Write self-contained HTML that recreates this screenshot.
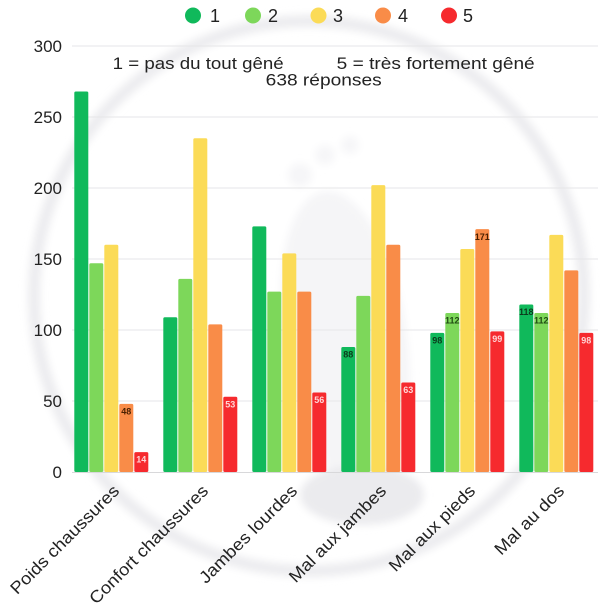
<!DOCTYPE html>
<html><head><meta charset="utf-8"><style>
html,body{margin:0;padding:0;background:#fff;}
svg{display:block;}
text{font-family:"Liberation Sans",Arial,sans-serif;fill:#222;}
.yl{font-size:17px;text-anchor:end;}
.xl{font-size:17px;text-anchor:end;}
.bl{font-size:9px;text-anchor:middle;font-weight:bold;}
</style></head><body>
<svg width="600" height="615" viewBox="0 0 600 615" xmlns="http://www.w3.org/2000/svg">
<defs>
<filter id="bl" x="-20%" y="-20%" width="140%" height="140%"><feGaussianBlur stdDeviation="4"/></filter>
</defs>
<rect width="600" height="615" fill="#fff"/>
<!-- watermark -->
<g filter="url(#bl)">
<circle cx="309" cy="296" r="275" fill="none" stroke="#ececef" stroke-width="12"/>
<ellipse cx="345" cy="340" rx="62" ry="150" fill="#f5f5f7" transform="rotate(-8 345 340)"/>
<ellipse cx="362" cy="495" rx="62" ry="30" fill="#ebebee"/>
<circle cx="300" cy="175" r="12" fill="#f6f6f8"/>
<circle cx="325" cy="155" r="10" fill="#f6f6f8"/>
<circle cx="350" cy="145" r="9" fill="#f6f6f8"/>
</g>
<!-- legend -->
<circle cx="193" cy="15.5" r="8" fill="#10b95b"/><text x="210" y="22" style="font-size:18px">1</text>
<circle cx="253" cy="15.5" r="8" fill="#7dd75a"/><text x="268" y="22" style="font-size:18px">2</text>
<circle cx="318.5" cy="15.5" r="8" fill="#fbdb57"/><text x="333" y="22" style="font-size:18px">3</text>
<circle cx="383" cy="15.5" r="8" fill="#f98c48"/><text x="398" y="22" style="font-size:18px">4</text>
<circle cx="449" cy="15.5" r="8" fill="#f62a2e"/><text x="463" y="22" style="font-size:18px">5</text>
<!-- grid -->
<g stroke="#e6e6e8" stroke-width="1">
<line x1="72" y1="46" x2="598" y2="46"/>
<line x1="72" y1="117" x2="598" y2="117"/>
<line x1="72" y1="188" x2="598" y2="188"/>
<line x1="72" y1="259" x2="598" y2="259"/>
<line x1="72" y1="330" x2="598" y2="330"/>
<line x1="72" y1="401" x2="598" y2="401"/>
</g>
<!-- y labels -->
<text class="yl" x="62" y="52">300</text>
<text class="yl" x="62" y="123">250</text>
<text class="yl" x="62" y="194">200</text>
<text class="yl" x="62" y="265">150</text>
<text class="yl" x="62" y="336">100</text>
<text class="yl" x="62" y="407">50</text>
<text class="yl" x="62" y="478">0</text>
<!-- subtitle -->
<text x="112.7" y="69" style="font-size:16.5px" textLength="171" lengthAdjust="spacingAndGlyphs">1 = pas du tout gêné</text>
<text x="336.7" y="69" style="font-size:16.5px" textLength="198" lengthAdjust="spacingAndGlyphs">5 = très fortement gêné</text>
<text x="265.7" y="85.5" style="font-size:16.5px" textLength="116" lengthAdjust="spacingAndGlyphs">638 réponses</text>
<!-- bars -->
<g>
<rect x="74.3" y="91.44" width="14" height="380.56" rx="1.5" fill="#10b95b"/>
<rect x="89.3" y="263.26" width="14" height="208.74" rx="1.5" fill="#7dd75a"/>
<rect x="104.3" y="244.8" width="14" height="227.2" rx="1.5" fill="#fbdb57"/>
<rect x="119.3" y="403.84" width="14" height="68.16" rx="1.5" fill="#f98c48"/>
<rect x="134.3" y="452.12" width="14" height="19.88" rx="1.5" fill="#f62a2e"/>

<rect x="163.3" y="317.22" width="14" height="154.78" rx="1.5" fill="#10b95b"/>
<rect x="178.3" y="278.88" width="14" height="193.12" rx="1.5" fill="#7dd75a"/>
<rect x="193.3" y="138.3" width="14" height="333.7" rx="1.5" fill="#fbdb57"/>
<rect x="208.3" y="324.32" width="14" height="147.68" rx="1.5" fill="#f98c48"/>
<rect x="223.3" y="396.74" width="14" height="75.26" rx="1.5" fill="#f62a2e"/>

<rect x="252.3" y="226.34" width="14" height="245.66" rx="1.5" fill="#10b95b"/>
<rect x="267.3" y="291.66" width="14" height="180.34" rx="1.5" fill="#7dd75a"/>
<rect x="282.3" y="253.32" width="14" height="218.68" rx="1.5" fill="#fbdb57"/>
<rect x="297.3" y="291.66" width="14" height="180.34" rx="1.5" fill="#f98c48"/>
<rect x="312.3" y="392.48" width="14" height="79.52" rx="1.5" fill="#f62a2e"/>

<rect x="341.3" y="347.04" width="14" height="124.96" rx="1.5" fill="#10b95b"/>
<rect x="356.3" y="295.92" width="14" height="176.08" rx="1.5" fill="#7dd75a"/>
<rect x="371.3" y="185.16" width="14" height="286.84" rx="1.5" fill="#fbdb57"/>
<rect x="386.3" y="244.8" width="14" height="227.2" rx="1.5" fill="#f98c48"/>
<rect x="401.3" y="382.54" width="14" height="89.46" rx="1.5" fill="#f62a2e"/>

<rect x="430.3" y="332.84" width="14" height="139.16" rx="1.5" fill="#10b95b"/>
<rect x="445.3" y="312.96" width="14" height="159.04" rx="1.5" fill="#7dd75a"/>
<rect x="460.3" y="249.06" width="14" height="222.94" rx="1.5" fill="#fbdb57"/>
<rect x="475.3" y="229.18" width="14" height="242.82" rx="1.5" fill="#f98c48"/>
<rect x="490.3" y="331.42" width="14" height="140.58" rx="1.5" fill="#f62a2e"/>

<rect x="519.3" y="304.44" width="14" height="167.56" rx="1.5" fill="#10b95b"/>
<rect x="534.3" y="312.96" width="14" height="159.04" rx="1.5" fill="#7dd75a"/>
<rect x="549.3" y="234.86" width="14" height="237.14" rx="1.5" fill="#fbdb57"/>
<rect x="564.3" y="270.36" width="14" height="201.64" rx="1.5" fill="#f98c48"/>
<rect x="579.3" y="332.84" width="14" height="139.16" rx="1.5" fill="#f62a2e"/>
</g>
<!-- baseline -->
<line x1="72" y1="472.5" x2="598" y2="472.5" stroke="#d8d8da" stroke-width="1"/>
<!-- bar labels -->
<text class="bl" x="126.3" y="414.5" style="fill:#4a2000">48</text>
<text class="bl" x="141.3" y="462.5" style="fill:#ffd6d6">14</text>
<text class="bl" x="230.3" y="407.5" style="fill:#ffd6d6">53</text>
<text class="bl" x="319.3" y="403" style="fill:#ffd6d6">56</text>
<text class="bl" x="348.3" y="357.5" style="fill:#0b3a1c">88</text>
<text class="bl" x="408.3" y="393" style="fill:#ffd6d6">63</text>
<text class="bl" x="437.3" y="343.5" style="fill:#0b3a1c">98</text>
<text class="bl" x="452.3" y="323.5" style="fill:#1f4a12">112</text>
<text class="bl" x="482.3" y="240" style="fill:#4a2000">171</text>
<text class="bl" x="497.3" y="342" style="fill:#ffd6d6">99</text>
<text class="bl" x="526.3" y="315" style="fill:#0b3a1c">118</text>
<text class="bl" x="541.3" y="323.5" style="fill:#1f4a12">112</text>
<text class="bl" x="586.3" y="343.5" style="fill:#ffd6d6">98</text>
<!-- x labels -->
<text class="xl" x="120.3" y="492" transform="rotate(-45 120.3 492)" textLength="146" lengthAdjust="spacingAndGlyphs">Poids chaussures</text>
<text class="xl" x="209.3" y="492" transform="rotate(-45 209.3 492)" textLength="160" lengthAdjust="spacingAndGlyphs">Confort chaussures</text>
<text class="xl" x="298.3" y="492" transform="rotate(-45 298.3 492)" textLength="130.6" lengthAdjust="spacingAndGlyphs">Jambes lourdes</text>
<text class="xl" x="387.3" y="492" transform="rotate(-45 387.3 492)" textLength="129.5" lengthAdjust="spacingAndGlyphs">Mal aux jambes</text>
<text class="xl" x="476.3" y="492" transform="rotate(-45 476.3 492)" textLength="114" lengthAdjust="spacingAndGlyphs">Mal aux pieds</text>
<text class="xl" x="565.3" y="492" transform="rotate(-45 565.3 492)" textLength="90.5" lengthAdjust="spacingAndGlyphs">Mal au dos</text>
</svg>
</body></html>
